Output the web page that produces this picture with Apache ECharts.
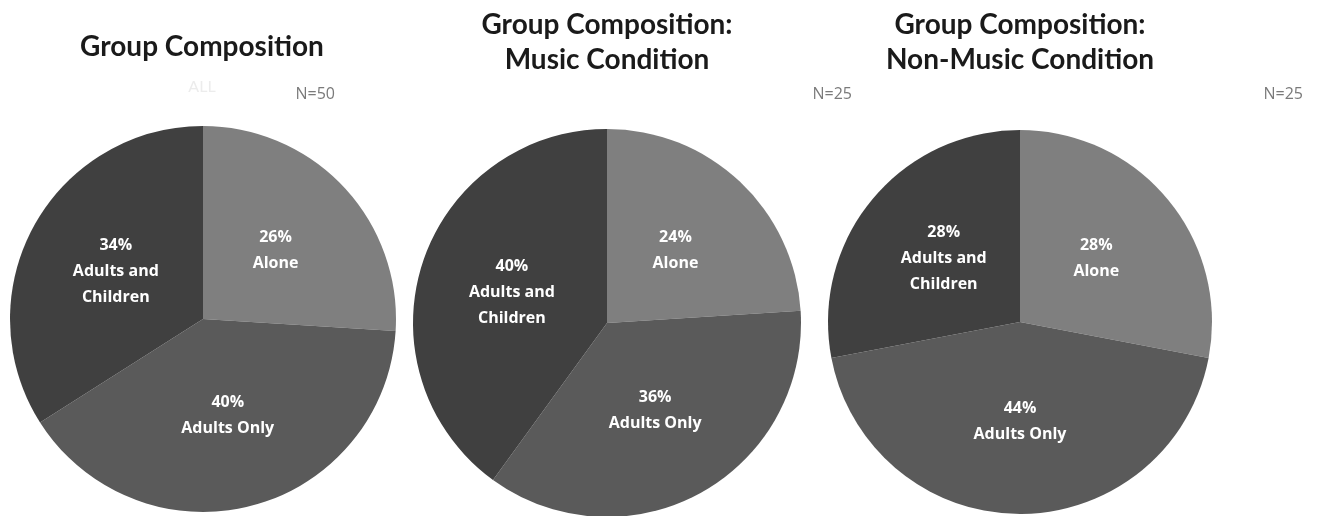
<!DOCTYPE html>
<html>
<head>
<meta charset="utf-8">
<style>
  html, body { margin: 0; padding: 0; background: #ffffff; }
  #chart { width: 1319px; height: 516px; }
</style>
<script src="https://cdn.jsdelivr.net/npm/echarts@6/dist/echarts.min.js"></script>
</head>
<body>
<div id="chart"></div>
<script>
// Group composition categories, in clockwise order from 12 o'clock
const categories = ['Alone', 'Adults Only', 'Adults and Children'];
const categoryLabels = ['Alone', 'Adults Only', 'Adults and\nChildren'];

// Percent of groups per condition
const allValues = [26, 40, 34];
const musicValues = [24, 36, 40];
const nonMusicValues = [28, 44, 28];

// Panel headings and sample sizes
const panelTitles = ['Group Composition', 'Group Composition:\nMusic Condition', 'Group Composition:\nNon-Music Condition'];
const panelSubtitles = ['ALL', '', ''];
const sampleSizes = ['N=50', 'N=25', 'N=25'];

const sliceColors = ['#7f7f7f', '#5a5a5a', '#404040'];
const TITLE_FONT = 'Lato, "Open Sans", sans-serif';
const LABEL_FONT = '"Open Sans", Lato, sans-serif';

const panels = [
  { values: allValues, cx: 203, cy: 319, r: 193, titleX: 202, titleY: 29, nX: 335 },
  { values: musicValues, cx: 607, cy: 323, r: 194, titleX: 607, titleY: 7, nX: 852 },
  { values: nonMusicValues, cx: 1020, cy: 322, r: 192, titleX: 1020, titleY: 7, nX: 1303 }
];

const titles = [];
panels.forEach((p, i) => {
  titles.push({
    text: panelTitles[i],
    left: p.titleX,
    top: p.titleY,
    padding: 0,
    textAlign: 'center',
    textStyle: { fontFamily: TITLE_FONT, fontWeight: 'bold', fontSize: 28, color: '#1a1a1a', lineHeight: 35 }
  });
  if (panelSubtitles[i]) {
    titles.push({
      text: panelSubtitles[i],
      left: p.titleX,
      top: 79,
      padding: 0,
      textAlign: 'center',
      textStyle: { fontFamily: TITLE_FONT, fontWeight: 'normal', fontSize: 16, color: '#ececec' }
    });
  }
  titles.push({
    text: sampleSizes[i],
    left: p.nX,
    top: 86,
    padding: 0,
    textAlign: 'right',
    textStyle: { fontFamily: LABEL_FONT, fontWeight: 'normal', fontSize: 16, color: '#7a7a7a' }
  });
});

const series = panels.map((p) => ({
  type: 'pie',
  center: [p.cx, p.cy],
  radius: [0, p.r],
  startAngle: 90,
  clockwise: true,
  silent: true,
  animation: false,
  label: {
    show: true,
    position: 'inside',
    color: '#ffffff',
    fontFamily: LABEL_FONT,
    fontWeight: 'bold',
    fontSize: 16,
    lineHeight: 26,
    formatter: (d) => d.value + '%\n' + categoryLabels[d.dataIndex]
  },
  labelLine: { show: false },
  itemStyle: { borderWidth: 0 },
  data: categories.map((name, k) => ({
    name: name,
    value: p.values[k],
    itemStyle: { color: sliceColors[k] }
  }))
}));

const chart = echarts.init(document.getElementById('chart'), null, { renderer: 'canvas' });
chart.setOption({
  backgroundColor: '#ffffff',
  title: titles,
  series: series
});
</script>
</body>
</html>
